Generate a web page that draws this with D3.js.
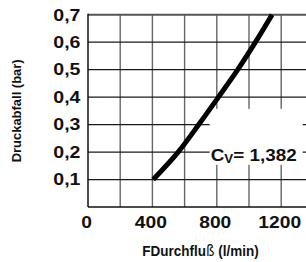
<!DOCTYPE html>
<html>
<head>
<meta charset="utf-8">
<script src="https://cdn.jsdelivr.net/npm/d3@7"></script>
<style>
  html, body { margin: 0; padding: 0; background: #fff; overflow: hidden; }
</style>
</head>
<body>
<div id="chart"></div>
<script>
// Chart data
const flowTicks = [0, 400, 800, 1200];
const flowGrid = [200, 400, 600, 800, 1000, 1200, 1400];
const pressureTicks = [0.1, 0.2, 0.3, 0.4, 0.5, 0.6, 0.7];
const pressureLabels = ["0,1", "0,2", "0,3", "0,4", "0,5", "0,6", "0,7"];
const curveFlow = [405, 560, 688, 810, 930, 1040, 1143];
const curvePressure = [0.1, 0.2, 0.3, 0.4, 0.5, 0.6, 0.7];
const cvText = "= 1,382";
const cvPos = [762, 0.168];

const W = 306, H = 262;
const margin = {top: 14.7, left: 88};
const plotH = 192.3;
const step = 32.2; // px per 200 l/min

const svg = d3.select("#chart")
    .append("svg")
    .attr("width", W)
    .attr("height", H);

const x = d3.scaleLinear()
    .domain([0, 1400])
    .range([margin.left, margin.left + 7 * step]);

const y = d3.scaleLinear()
    .domain([0, 0.7])
    .range([margin.top + plotH, margin.top]);

const labelFont = "'Liberation Sans', Arial, Helvetica, sans-serif";

// widen glyphs a bit, the scan's digits are broader than Arial
function stretch(sel, factor) {
    sel.each(function() {
        const len = this.getComputedTextLength();
        d3.select(this)
            .attr("textLength", len * factor)
            .attr("lengthAdjust", "spacingAndGlyphs");
    });
}

// vertical grid
svg.append("g")
    .selectAll("line")
    .data(flowGrid)
    .enter()
    .append("line")
    .attr("x1", d => x(d)).attr("x2", d => x(d))
    .attr("y1", y(0.7)).attr("y2", y(0))
    .attr("stroke", "#666")
    .attr("stroke-width", 1.4);

// horizontal grid
svg.append("g")
    .selectAll("line")
    .data(pressureTicks.filter(d => d < 0.7))
    .enter()
    .append("line")
    .attr("x1", x(0)).attr("x2", W)
    .attr("y1", d => y(d)).attr("y2", d => y(d))
    .attr("stroke", "#1a1a1a")
    .attr("stroke-width", 1.2);

// top border
svg.append("line")
    .attr("x1", x(0)).attr("x2", W)
    .attr("y1", y(0.7)).attr("y2", y(0.7))
    .attr("stroke", "#555")
    .attr("stroke-width", 2);

// Cv label with white backing
const lx = x(cvPos[0]), ly = y(cvPos[1]);
svg.append("rect")
    .attr("x", lx - 1)
    .attr("y", ly - 52)
    .attr("width", 93)
    .attr("height", 56)
    .attr("fill", "#fff");

const cv = svg.append("text")
    .attr("x", lx)
    .attr("y", ly)
    .attr("font-family", labelFont)
    .attr("font-weight", "bold")
    .attr("font-size", 17)
    .attr("fill", "#111");
cv.append("tspan").text("C");
cv.append("tspan").attr("font-size", 12).attr("dy", 2.6).text("V");
cv.append("tspan").attr("dy", -2.6).text(cvText);
cv.attr("textLength", 86).attr("lengthAdjust", "spacingAndGlyphs");

// axes lines
svg.append("line")
    .attr("x1", x(0)).attr("x2", x(0))
    .attr("y1", y(0.7) - 1).attr("y2", y(0))
    .attr("stroke", "#111")
    .attr("stroke-width", 1.5);
svg.append("line")
    .attr("x1", x(0)).attr("x2", W)
    .attr("y1", y(0)).attr("y2", y(0))
    .attr("stroke", "#111")
    .attr("stroke-width", 1.5);

// pressure drop curve
const line = d3.line()
    .x((d, i) => x(curveFlow[i]))
    .y(d => y(d))
    .curve(d3.curveCatmullRom);

svg.append("path")
    .datum(curvePressure)
    .attr("fill", "none")
    .attr("stroke", "#000")
    .attr("stroke-width", 5)
    .attr("d", line);

// y tick labels
svg.append("g")
    .selectAll("text")
    .data(pressureTicks)
    .enter()
    .append("text")
    .attr("x", 80.5)
    .attr("y", d => y(d) + 5.8)
    .attr("text-anchor", "end")
    .attr("font-family", labelFont)
    .attr("font-weight", "bold")
    .attr("font-size", 16)
    .attr("fill", "#111")
    .text((d, i) => pressureLabels[i])
    .call(stretch, 1.22);

// x tick labels
svg.append("g")
    .selectAll("text")
    .data(flowTicks)
    .enter()
    .append("text")
    .attr("x", d => x(d) - 1.5)
    .attr("y", 227.5)
    .attr("text-anchor", "middle")
    .attr("font-family", labelFont)
    .attr("font-weight", "bold")
    .attr("font-size", 16)
    .attr("fill", "#111")
    .text(d => d)
    .call(stretch, 1.2);

// x axis title (condensed via horizontal scale)
const xt = svg.append("text")
    .attr("transform", "translate(200.5,256) scale(0.9,1)")
    .attr("text-anchor", "middle")
    .attr("font-family", labelFont)
    .attr("font-weight", "bold")
    .attr("font-size", 15)
    .attr("fill", "#111");
xt.append("tspan").text("FDurchflu");
xt.append("tspan").attr("font-weight", "normal").attr("font-family", "'DejaVu Sans', sans-serif").text("ß");
xt.append("tspan").text(" (l/min)");

// y axis title
svg.append("text")
    .attr("transform", `translate(21,${(y(0) + y(0.7)) / 2}) rotate(-90)`)
    .attr("text-anchor", "middle")
    .attr("font-family", labelFont)
    .attr("font-weight", "bold")
    .attr("font-size", 13)
    .attr("textLength", 103)
    .attr("lengthAdjust", "spacingAndGlyphs")
    .attr("fill", "#111")
    .text("Druckabfall (bar)");
</script>
</body>
</html>
